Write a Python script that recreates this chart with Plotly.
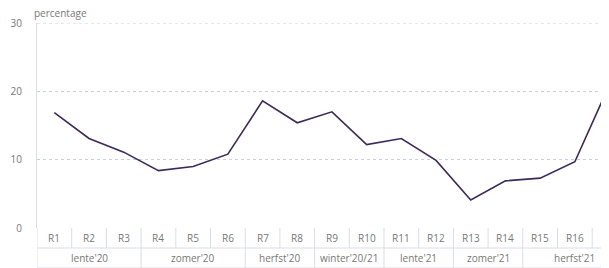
import plotly.graph_objects as go

rondes = ["R1", "R2", "R3", "R4", "R5", "R6", "R7", "R8", "R9", "R10",
          "R11", "R12", "R13", "R14", "R15", "R16", "R17"]
waarden = [16.9, 13.1, 11.1, 8.4, 9.0, 10.8, 18.6, 15.4, 17.0, 12.2,
           13.1, 9.9, 4.1, 6.9, 7.3, 9.7, 21.0]
seizoenen = ["lente'20", "zomer'20", "herfst'20", "winter'20/21",
             "lente'21", "zomer'21", "herfst'21"]
seizoen_rondes = [3, 3, 2, 2, 2, 2, 3]
y_ticks = [0, 10, 20, 30]

x_idx = list(range(len(rondes)))
grid_col = "#d9dde6"
txt_col = "#777777"
font_fam = "Open Sans, Noto Sans, sans-serif"

# page body has an 8px default margin; compensate
OFF = 8
W, H = 609, 268
plot_l, plot_t, plot_b = 37 - OFF, 23 - OFF, 228 - OFF
plot_r = W - OFF
plot_h = plot_b - plot_t
x_range = [-0.5, -0.5 + (plot_r - plot_l) / 34.7]


def to_paper(xv):
    return (xv - x_range[0]) / (x_range[1] - x_range[0])


fig = go.Figure()
fig.add_trace(go.Scatter(
    x=x_idx, y=waarden, mode="lines",
    line=dict(color="#3b2a58", width=1.6),
    hoverinfo="skip", showlegend=False,
))

shapes = []
annotations = []
row1_bottom = -20 / plot_h
row2_bottom = -40 / plot_h

for yb in [row1_bottom, row2_bottom]:
    shapes.append(dict(type="line", xref="x", yref="paper",
                       x0=-0.5, x1=len(rondes) - 0.5, y0=yb, y1=yb,
                       line=dict(color=grid_col, width=1)))

bounds = [0]
for n in seizoen_rondes:
    bounds.append(bounds[-1] + n)
group_edges = set(b - 0.5 for b in bounds)

for i in range(len(rondes) + 1):
    xe = i - 0.5
    y_low = row2_bottom if xe in group_edges else row1_bottom
    shapes.append(dict(type="line", xref="x", yref="paper",
                       x0=xe, x1=xe, y0=0, y1=y_low,
                       line=dict(color=grid_col, width=1)))

shapes.append(dict(type="line", xref="paper", yref="y",
                   x0=0, x1=1, y0=y_ticks[-1], y1=y_ticks[-1],
                   line=dict(color="#c9cfe0", width=1, dash="dot")))

for k, s in enumerate(seizoenen):
    center = (bounds[k] + bounds[k + 1] - 1) / 2
    annotations.append(dict(
        x=to_paper(center), y=(row1_bottom + row2_bottom) / 2,
        xref="paper", yref="paper", xanchor="center",
        text=s, showarrow=False, yanchor="middle",
        font=dict(size=10, color=txt_col, family=font_fam)))

for i, r in enumerate(rondes):
    annotations.append(dict(
        x=to_paper(i), y=row1_bottom / 2, xref="paper", yref="paper",
        xanchor="center",
        text=r, showarrow=False, yanchor="middle",
        font=dict(size=10, color=txt_col, family=font_fam)))

annotations.append(dict(
    x=0, y=1, xref="paper", yref="paper", xanchor="left", yanchor="bottom",
    xshift=-5, yshift=1,
    text="percentage", showarrow=False,
    font=dict(size=10, color=txt_col, family=font_fam)))

fig.update_layout(
    width=W, height=H,
    margin=dict(l=plot_l, r=W - plot_r, t=plot_t, b=H - plot_b,
                autoexpand=False),
    paper_bgcolor="white", plot_bgcolor="white",
    xaxis=dict(range=x_range,
               showticklabels=False, showgrid=False, zeroline=False,
               showline=False, fixedrange=True, automargin=False),
    yaxis=dict(range=[0, 30], tickvals=y_ticks, showgrid=True,
               gridcolor="#c9cfe0", griddash="dot", gridwidth=1,
               zeroline=False, showline=True, linecolor=grid_col,
               ticklabelstandoff=12, automargin=False,
               tickfont=dict(size=10, color=txt_col, family=font_fam)),
    shapes=shapes,
    annotations=annotations,
)

fig.write_html("out.html")
